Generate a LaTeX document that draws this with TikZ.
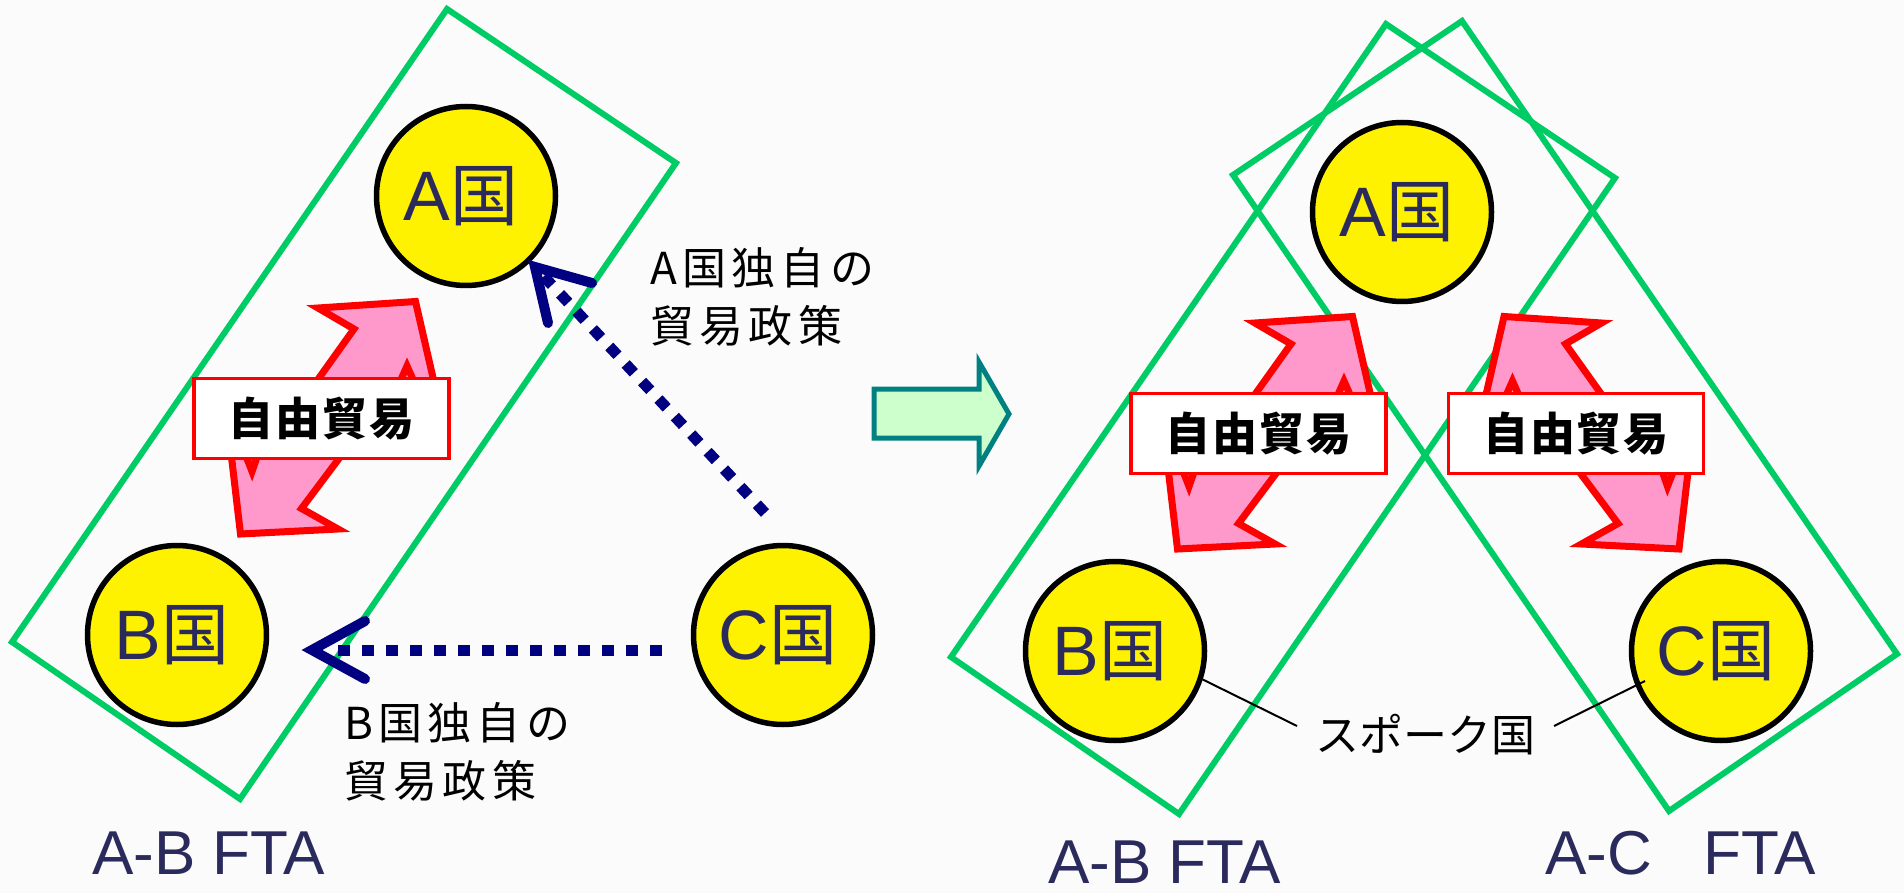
\documentclass[tikz,border=0pt]{standalone}
\usepackage{fontspec}
\setmainfont{Liberation Sans}
\newfontfamily\jp{Noto Sans CJK JP}
\newfontfamily\jpls{Noto Sans CJK JP}[LetterSpace=12]
\newfontfamily\jpbl{Noto Sans CJK JP}[LetterSpace=4]
\usetikzlibrary{calc}
\definecolor{ftagreen}{RGB}{0,204,102}
\definecolor{navytxt}{RGB}{42,42,92}
\definecolor{dotnavy}{RGB}{0,0,128}
\definecolor{pinkfill}{RGB}{255,153,204}
\definecolor{tealline}{RGB}{0,128,128}
\definecolor{mintfill}{RGB}{204,255,204}
\definecolor{bgcol}{RGB}{251,251,251}
\newcommand\cty[1]{{\fontsize{70}{70}\selectfont #1}{\jp\fontsize{68}{68}\selectfont 国}\hspace*{10pt}}
\tikzset{
  pinkpair/.pic={
    \filldraw[cyc] (-3.5,-110.5) -- (94,-117) -- (114,-30) -- (-10,-30) -- (32.5,-89.5) -- cycle;
    \filldraw[cyc] (-91,30) -- (-81,115.5) -- (16.5,110.5) -- (-20,90) -- (25,30) -- cycle;
    \filldraw[cyc] (75.5,-30) -- (85.5,-52.5) -- (95.5,-30) -- cycle;
    \filldraw[cyc] (-78.5,30) -- (-69.5,53) -- (-61.5,30) -- cycle;
  }
}
\begin{document}
\begin{tikzpicture}[x=1pt,y=-1pt,
  country/.style={circle,draw=black,line width=5.5pt,fill=yellow,minimum size=179pt,inner sep=0pt,text=navytxt},
  fta/.style={draw=ftagreen,line width=6pt,line join=miter},
  trade/.style={draw=red,line width=3.5pt,fill=white,minimum width=255pt,minimum height=80pt,inner sep=0pt,font=\jpbl\bfseries\fontsize{45}{45}\selectfont},
  cyc/.style={draw=red,line width=7pt,fill=pinkfill,line join=miter},
  dotline/.style={draw=dotnavy,line width=11pt,dash pattern=on 12pt off 12pt},
  chev/.style={draw=dotnavy,line width=10pt,line cap=round,line join=miter},
  policy/.style={align=left,anchor=north west,inner sep=0pt,font=\jpls\fontsize{44}{58}\selectfont},
  ftalabel/.style={anchor=base west,inner sep=0pt,text=navytxt,font=\fontsize{62}{62}\selectfont},
  lead/.style={draw=black,line width=2pt}]
\useasboundingbox (0,0) rectangle (1904,893);
\fill[bgcol] (0,0) rectangle (1904,893);

% FTA rectangles
\draw[fta] (447,9) -- (676,163) -- (240,799) -- (12,642) -- cycle;
\draw[fta] (1386,24) -- (1615,178) -- (1179,814) -- (951,657) -- cycle;
\draw[fta] (1462,21) -- (1897,654) -- (1669,811) -- (1233,175) -- cycle;

% free-trade cycles
\pic at (321.5,418.5) {pinkpair};
\pic at (1258.5,433.5) {pinkpair};
\pic[xscale=-1] at (1598,433.5) {pinkpair};
\node[trade] (t1) at (321.5,418.5) {自由貿易};
\node[trade] (t2) at (1258.5,433.5) {自由貿易};
\node[trade] (t3) at (1576,433.5) {自由貿易};

% countries
\node[country] (A) at (466,196) {\cty{A}};
\node[country] (B) at (177,635) {\cty{B}};
\node[country] (C) at (783,635) {\cty{C}};
\node[country] (A2) at (1402,212) {\cty{A}};
\node[country] (B2) at (1115,651) {\cty{B}};
\node[country] (C2) at (1721,651) {\cty{C}};

% own trade policy arrows
\coordinate (hs) at (662,650);
\coordinate (he) at (338,650);
\coordinate (htip) at (312,650);
\draw[dotline] (hs) -- (he);
\draw[chev] (365,621) -- (htip) -- (365,679);
\coordinate (ds) at (765,513);
\coordinate (dtip) at (535,267);
\draw[dotline] (ds) -- (dtip);
\draw[chev] (592,283) -- (dtip) -- (548,323);

% block arrow
\filldraw[draw=tealline,fill=mintfill,line width=5pt,line join=miter]
  (874,389) -- (979,389) -- (979,362) -- (1009,414) -- (979,466) -- (979,438) -- (874,438) -- cycle;

% texts
\node[policy] (pa) at (650,247) {A国独自の\\貿易政策};
\node[policy] (pb) at (344,702) {B国独自の\\貿易政策};
\node[ftalabel] (f1) at (92,874) {A-B FTA};
\node[ftalabel] (f2) at (1048,883) {A-B FTA};
\node[ftalabel] (f3) at (1545,874) {A-C\ \ \ FTA};
\node[inner sep=0pt,font=\jp\fontsize{44}{44}\selectfont] (spoke) at (1425,735) {スポーク国};
\coordinate (sl) at (1297,726);
\coordinate (sr) at (1554,726);
\coordinate (cl) at (1645,681);
\draw[lead] (B2.-18) -- (sl);
\draw[lead] (sr) -- (cl);
\end{tikzpicture}
\end{document}
